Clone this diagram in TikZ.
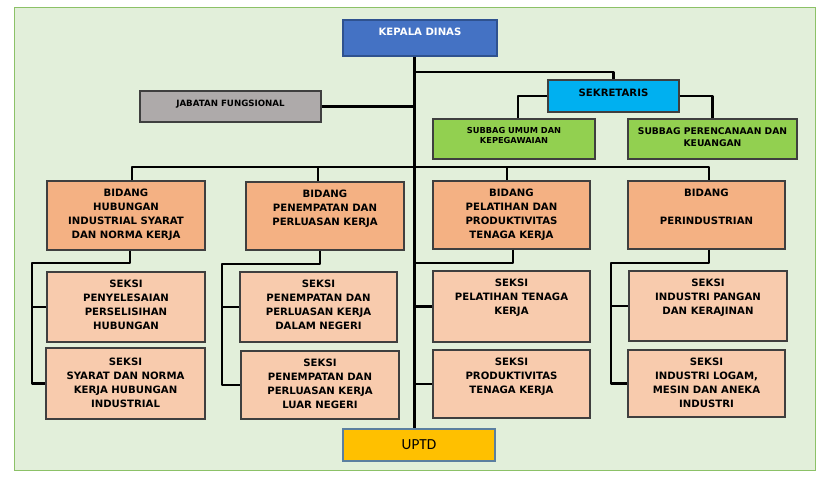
\documentclass[tikz,border=0pt]{standalone}
\usepackage{fontspec}
\newfontfamily\vfont{DejaVu Sans}
\newfontfamily\cfont{Carlito}
\usetikzlibrary{fit}
\definecolor{framefill}{HTML}{E2EFDA}
\definecolor{framedraw}{HTML}{8CC167}
\definecolor{kepfill}{HTML}{4472C4}
\definecolor{kepdraw}{HTML}{2F528F}
\definecolor{sekfill}{HTML}{00B0F0}
\definecolor{subfill}{HTML}{92D050}
\definecolor{jabfill}{HTML}{AEAAAA}
\definecolor{bidfill}{HTML}{F4B183}
\definecolor{seksifill}{HTML}{F8CBAD}
\definecolor{uptdfill}{HTML}{FFC000}
\definecolor{uptddraw}{HTML}{5B7FA0}
\definecolor{boxline}{HTML}{3F3F3F}
\tikzset{
  ln/.style={line width=2.1pt, line join=round, draw=black},
  bx/.style={draw=boxline, line width=0.9pt, inner sep=0pt},
  txt/.style={anchor=north, inner sep=0pt, align=center,
    font=\vfont\bfseries\fontsize{7.6}{10.5}\selectfont},
  bidang/.style={bx, fill=bidfill},
  seksi/.style={bx, fill=seksifill},
}
\begin{document}
\begin{tikzpicture}[x=0.75pt, y=-0.75pt]
\useasboundingbox (0,0) rectangle (828,480);
\fill[white] (0,0) rectangle (828,480);
\draw[draw=framedraw, fill=framefill, line width=1.2pt] (14.5,7.5) rectangle (815.5,470.5);

% boxes
\node[bx, draw=kepdraw, fill=kepfill, fit={(343,20)(497,56)}] (kep) {};
\node[bx, fill=sekfill, fit={(548,80)(679,112)}] (sek) {};
\node[bx, fill=subfill, fit={(433,119)(595,159)}] (sub1) {};
\node[bx, fill=subfill, fit={(628,119)(797,159)}] (sub2) {};
\node[bx, fill=jabfill, fit={(140,91)(321,122)}] (jab) {};
\node[bidang, fit={(47,181)(205,250)}] (b1) {};
\node[bidang, fit={(246,182)(404,250)}] (b2) {};
\node[bidang, fit={(433,181)(590,249)}] (b3) {};
\node[bidang, fit={(628,181)(785,249)}] (b4) {};
\node[seksi, fit={(47,272)(205,342)}] (s1a) {};
\node[seksi, fit={(46,348)(205,419)}] (s1b) {};
\node[seksi, fit={(240,272)(397,342)}] (s2a) {};
\node[seksi, fit={(241,351)(399,419)}] (s2b) {};
\node[seksi, fit={(433,271)(590,342)}] (s3a) {};
\node[seksi, fit={(433,350)(590,418)}] (s3b) {};
\node[seksi, fit={(629,271)(787,341)}] (s4a) {};
\node[seksi, fit={(628,350)(785,417)}] (s4b) {};
\node[bx, draw=uptddraw, fill=uptdfill, fit={(343,429)(495,461)}] (uptd) {};

% texts
\node[txt, text=white] (tkep) at ([yshift=-6.3pt]kep.north) {KEPALA DINAS};
\node[txt] (tsek) at ([yshift=-7pt]sek.north) {SEKRETARIS};
\node[txt, font=\vfont\bfseries\fontsize{6.2}{7.1}\selectfont] (tsub1) at ([yshift=-6.8pt]sub1.north) {SUBBAG UMUM DAN\\KEPEGAWAIAN};
\node[txt, font=\vfont\bfseries\fontsize{6.9}{9}\selectfont] (tsub2) at ([yshift=-6.5pt]sub2.north) {SUBBAG PERENCANAAN DAN\\KEUANGAN};
\node[txt, font=\vfont\bfseries\fontsize{6.5}{8}\selectfont] (tjab) at ([yshift=-6.8pt]jab.north) {JABATAN FUNGSIONAL};
\node[txt] (tb1) at ([yshift=-6.5pt]b1.north) {BIDANG\\HUBUNGAN\\INDUSTRIAL SYARAT\\DAN NORMA KERJA};
\node[txt] (tb2) at ([yshift=-6.5pt]b2.north) {BIDANG\\PENEMPATAN DAN\\PERLUASAN KERJA};
\node[txt] (tb3) at ([yshift=-6.5pt]b3.north) {BIDANG\\PELATIHAN DAN\\PRODUKTIVITAS\\TENAGA KERJA};
\node[txt] (tb4) at ([yshift=-6.5pt]b4.north) {BIDANG\\[10.5pt]PERINDUSTRIAN};
\node[txt] (ts1a) at ([yshift=-6.5pt]s1a.north) {SEKSI\\PENYELESAIAN\\PERSELISIHAN\\HUBUNGAN};
\node[txt] (ts1b) at ([yshift=-7.5pt]s1b.north) {SEKSI\\SYARAT DAN NORMA\\KERJA HUBUNGAN\\INDUSTRIAL};
\node[txt] (ts2a) at ([yshift=-6.5pt]s2a.north) {SEKSI\\PENEMPATAN DAN\\PERLUASAN KERJA\\DALAM NEGERI};
\node[txt] (ts2b) at ([yshift=-6.5pt]s2b.north) {SEKSI\\PENEMPATAN DAN\\PERLUASAN KERJA\\LUAR NEGERI};
\node[txt] (ts3a) at ([yshift=-6.5pt]s3a.north) {SEKSI\\PELATIHAN TENAGA\\KERJA};
\node[txt] (ts3b) at ([yshift=-6.5pt]s3b.north) {SEKSI\\PRODUKTIVITAS\\TENAGA KERJA};
\node[txt] (ts4a) at ([yshift=-6.5pt]s4a.north) {SEKSI\\INDUSTRI PANGAN\\DAN KERAJINAN};
\node[txt] (ts4b) at ([yshift=-6.5pt]s4b.north) {SEKSI\\INDUSTRI LOGAM,\\MESIN DAN ANEKA\\INDUSTRI};
\node[inner sep=0pt, font=\cfont\fontsize{11.5}{13}\selectfont] (tuptd) at (uptd.center) {UPTD};

% connectors
\coordinate (m) at (414.5,0);
\coordinate (sk) at (613,72);
\draw[ln] (kep.south -| m) -- (uptd.north -| m);
\draw[ln] (m |- sk) -| (sek.north);
\draw[ln] (sek.west) -| ([xshift=3pt]sub1.north);
\draw[ln] (sek.east) -| (sub2.north);
\draw[ln] (jab.east) -- (jab.east -| m);

\coordinate (d1) at (132,167);
\coordinate (d2) at (318,167);
\coordinate (d3) at (507,167);
\coordinate (d4) at (709,167);
\draw[ln] (d1 |- b1.north) -- (d1) -- (d4) -- (d4 |- b4.north);
\draw[ln] (d2) -- (d2 |- b2.north);
\draw[ln] (d3) -- (d3 |- b3.north);

\coordinate (c1) at (130,263);
\coordinate (v1) at (32,263);
\draw[ln] (c1 |- b1.south) -- (c1) -- (v1) -- (v1 |- s1b.west) -- (s1b.west);
\draw[ln] (v1 |- s1a.west) -- (s1a.west);

\coordinate (c2) at (320,264);
\coordinate (v2) at (222,264);
\draw[ln] (c2 |- b2.south) -- (c2) -- (v2) -- (v2 |- s2b.west) -- (s2b.west);
\draw[ln] (v2 |- s2a.west) -- (s2a.west);

\coordinate (c3) at (513,263);
\draw[ln] (c3 |- b3.south) -- (c3) -- (m |- c3);
\draw[ln] (m |- s3a.west) -- (s3a.west);
\draw[ln] (m |- s3b.west) -- (s3b.west);

\coordinate (c4) at (709,263);
\coordinate (v4) at (611,263);
\draw[ln] (c4 |- b4.south) -- (c4) -- (v4) -- (v4 |- s4b.west) -- (s4b.west);
\draw[ln] (v4 |- s4a.west) -- (s4a.west);
\end{tikzpicture}
\end{document}
